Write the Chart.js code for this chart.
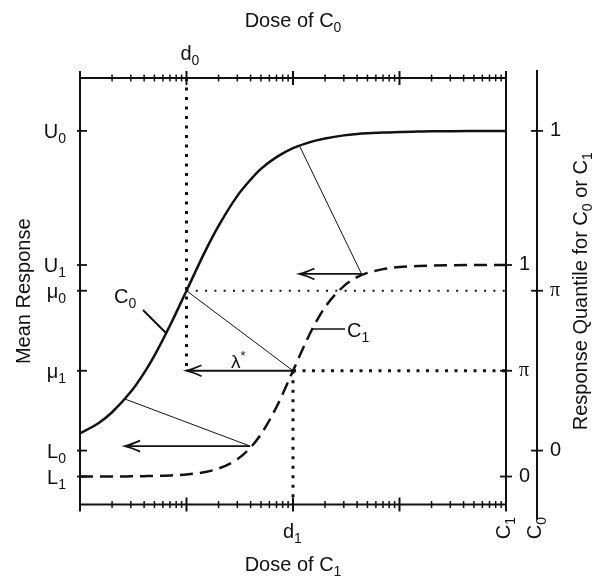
<!DOCTYPE html>
<html>
<head>
<meta charset="utf-8">
<script src="https://cdn.jsdelivr.net/npm/chart.js@4.4.0/dist/chart.umd.min.js"></script>
<style>
html, body { margin: 0; padding: 0; background: #fff; }
#wrap { width: 593px; height: 577px; }
</style>
</head>
<body>
<div id="wrap"><canvas id="doseChart"></canvas></div>
<script>
// dose axis (log), one major tick per decade
const doseDecades = [1, 10, 100, 1000, 10000];
const minorSteps = [2, 3, 4, 5, 6, 7, 8, 9];

const doses = [1, 1.5, 2, 3, 4, 5, 7, 10, 15, 20, 30, 40, 50, 70, 100, 150, 200, 300, 400, 500, 700, 1000, 1500, 2000, 3000, 5000, 10000];
const c0Response = [12.5, 15.5, 18.6, 24.5, 30.0, 35.0, 43.7, 53.75, 65.2, 72.5, 81.2, 85.9, 89.0, 92.4, 95.0, 96.9, 97.8, 98.7, 99.1, 99.3, 99.5, 99.7, 99.8, 99.87, 99.92, 99.96, 100];
const c1Response = [0.0, 0.0, 0.0, 0.05, 0.1, 0.15, 0.3, 0.6, 1.3, 2.3, 5.0, 8.4, 12.2, 20.1, 30.6, 42.4, 49.0, 55.1, 57.7, 58.9, 60.0, 60.6, 60.9, 61.05, 61.13, 61.18, 61.2];

// mean response levels (left axis)
const levelValues = [100, 61.2, 53.75, 30.6, 7.5, 0];
const levelNames = ['U', 'U', 'μ', 'μ', 'L', 'L'];
const levelSubs = ['0', '1', '0', '1', '0', '1'];

// quantile axes on the right: inner = C1, outer = C0
const c1QuantValues = [61.2, 30.6, 0];
const c0QuantValues = [100, 53.75, 7.5];
const quantLabels = ['1', 'π', '0'];

const d0 = 10, d1 = 100;
const mu0 = 53.75, mu1 = 30.6;
const yMin = -8.1, yMax = 115.3;

// thin lines joining equal quantiles, arrows run back to the C0 dose
const linkFromDose = [2.65, 10, 115];
const linkFromResp = [22.4, 53.75, 95.7];
const linkToDose = [39.5, 100, 440];
const linkToResp = [8.8, 30.6, 58.6];

const SANS = '"Liberation Sans", Arial, Helvetica, sans-serif';
const SERIF = '"Liberation Serif", "Times New Roman", serif';
const INK = '#111';
const FS = 20;

function seg(xs, ys) {
    return xs.map((v, i) => ({ x: v, y: ys[i] }));
}

function lineSet(data, width, dash) {
    return {
        data: data,
        borderColor: INK,
        borderWidth: width,
        borderDash: dash || [],
        borderCapStyle: 'butt',
        pointRadius: 0,
        fill: false,
        tension: 0
    };
}

const datasets = [];
datasets.push(Object.assign(lineSet(seg(doses, c0Response), 2.5), { cubicInterpolationMode: 'monotone' }));
datasets.push(Object.assign(lineSet(seg(doses, c1Response), 2.5, [13, 7]), { cubicInterpolationMode: 'monotone' }));

// dotted guides
datasets.push(lineSet([{ x: d0, y: yMax }, { x: d0, y: mu1 }], 3, [3, 6.5]));
datasets.push(lineSet([{ x: d1, y: mu1 }, { x: d1, y: yMin }], 3, [3, 6.5]));
datasets.push(lineSet([{ x: d1, y: mu1 }, { x: 10000, y: mu1 }], 3, [3, 6.5]));
datasets.push(lineSet([{ x: d0, y: mu0 }, { x: 10000, y: mu0 }], 2, [2, 7.3]));

linkFromDose.forEach((v, i) => {
    datasets.push(lineSet([{ x: v, y: linkFromResp[i] }, { x: linkToDose[i], y: linkToResp[i] }], 1));
    datasets.push(lineSet([{ x: linkToDose[i], y: linkToResp[i] }, { x: v + 0.0001, y: linkToResp[i] }], 1.8));
});

function fontFor(part, size) {
    const s = part[1] ? Math.round(size * 0.7) : size;
    const fam = part[2] === 'serif' ? SERIF : SANS;
    return s + 'px ' + fam;
}

// parts: [text, '' | 'sub' | 'sup', family]
function drawRich(ctx, parts, x, y, align, size) {
    const widths = parts.map(p => { ctx.font = fontFor(p, size); return ctx.measureText(p[0]).width; });
    const total = widths.reduce((a, b) => a + b, 0);
    let cx = align === 'right' ? x - total : align === 'center' ? x - total / 2 : x;
    ctx.textAlign = 'left';
    ctx.textBaseline = 'alphabetic';
    parts.forEach((p, i) => {
        ctx.font = fontFor(p, size);
        const dy = p[1] === 'sub' ? size * 0.26 : p[1] === 'sup' ? -size * 0.42 : 0;
        ctx.fillText(p[0], cx, y + dy);
        cx += widths[i];
    });
}

function line(ctx, x1, y1, x2, y2, w) {
    ctx.lineWidth = w;
    ctx.beginPath();
    ctx.moveTo(x1, y1);
    ctx.lineTo(x2, y2);
    ctx.stroke();
}

const axesPlugin = {
    id: 'axesPlugin',
    afterDatasetsDraw(chart) {
        const ctx = chart.ctx;
        const xs = chart.scales.x, ys = chart.scales.y, a = chart.chartArea;
        const outerX = a.right + 31;
        ctx.save();
        ctx.strokeStyle = INK;
        ctx.fillStyle = INK;
        ctx.lineCap = 'butt';

        // frame
        ctx.lineWidth = 2;
        ctx.strokeRect(a.left, a.top, a.right - a.left, a.bottom - a.top);

        // dose ticks, top and bottom
        doseDecades.forEach((d, i) => {
            const px = xs.getPixelForValue(d);
            line(ctx, px, a.top - 7, px, a.top + 7, 2);
            line(ctx, px, a.bottom - 7, px, a.bottom + 7, 2);
            if (i < doseDecades.length - 1) {
                minorSteps.forEach(m => {
                    const p = xs.getPixelForValue(d * m);
                    line(ctx, p, a.top - 3.5, p, a.top + 3.5, 1.5);
                    line(ctx, p, a.bottom - 3.5, p, a.bottom + 3.5, 1.5);
                });
            }
        });

        // left ticks and labels
        levelValues.forEach((v, i) => {
            const py = ys.getPixelForValue(v);
            line(ctx, a.left - 3, py, a.left + 7, py, 1.8);
            drawRich(ctx, [[levelNames[i], ''], [levelSubs[i], 'sub']], 66, py + 7, 'right', FS);
        });

        // inner right axis (C1)
        c1QuantValues.forEach((v, i) => {
            const py = ys.getPixelForValue(v);
            line(ctx, a.right - 6, py, a.right + 6, py, 1.8);
            const fam = quantLabels[i] === 'π' ? SERIF : SANS;
            ctx.font = FS + 'px ' + fam;
            ctx.textAlign = 'left';
            ctx.textBaseline = 'middle';
            ctx.fillText(quantLabels[i], a.right + 13, py);
        });

        // outer right axis (C0)
        line(ctx, outerX, a.top - 8, outerX, a.bottom + 15, 2);
        c0QuantValues.forEach((v, i) => {
            const py = ys.getPixelForValue(v);
            line(ctx, outerX - 6, py, outerX + 6, py, 1.8);
            const fam = quantLabels[i] === 'π' ? SERIF : SANS;
            ctx.font = FS + 'px ' + fam;
            ctx.textAlign = 'left';
            ctx.textBaseline = 'middle';
            ctx.fillText(quantLabels[i], outerX + 13, py);
        });

        // arrow heads
        linkFromDose.forEach((v, i) => {
            const tx = xs.getPixelForValue(v), ty = ys.getPixelForValue(linkToResp[i]);
            ctx.lineWidth = 1.8;
            ctx.beginPath();
            ctx.moveTo(tx + 15, ty - 5.5);
            ctx.quadraticCurveTo(tx + 6, ty - 1.5, tx, ty);
            ctx.quadraticCurveTo(tx + 6, ty + 1.5, tx + 15, ty + 5.5);
            ctx.stroke();
        });

        // dose labels
        drawRich(ctx, [['d', ''], ['0', 'sub']], xs.getPixelForValue(d0) - 6, 60, 'left', FS);
        drawRich(ctx, [['d', ''], ['1', 'sub']], xs.getPixelForValue(d1) - 10, 537.5, 'left', FS);
        drawRich(ctx, [['Dose of C', ''], ['0', 'sub']], 293, 27, 'center', FS);
        drawRich(ctx, [['Dose of C', ''], ['1', 'sub']], 293, 571, 'center', FS);

        // curve labels
        drawRich(ctx, [['C', ''], ['0', 'sub']], 114, 302.5, 'left', FS);
        line(ctx, 143, 310, 166, 333, 2);
        drawRich(ctx, [['C', ''], ['1', 'sub']], 347, 337, 'left', FS);
        line(ctx, 313, 329, 345, 329, 1.5);
        drawRich(ctx, [['λ', ''], ['*', 'sup']], 231, 368, 'left', 19);

        // rotated labels below the right axes
        [[a.right, '1'], [outerX, '0']].forEach(p => {
            ctx.save();
            ctx.translate(p[0] + 4, 517);
            ctx.rotate(-Math.PI / 2);
            drawRich(ctx, [['C', ''], [p[1], 'sub']], 0, 0, 'right', FS);
            ctx.restore();
        });

        // axis titles
        ctx.save();
        ctx.translate(30, (a.top + a.bottom) / 2);
        ctx.rotate(-Math.PI / 2);
        drawRich(ctx, [['Mean Response', '']], 0, 0, 'center', FS);
        ctx.restore();

        ctx.save();
        ctx.translate(587, (a.top + a.bottom) / 2);
        ctx.rotate(-Math.PI / 2);
        drawRich(ctx, [['Response Quantile for C', ''], ['0', 'sub'], [' or C', ''], ['1', 'sub']], 0, 0, 'center', FS);
        ctx.restore();

        ctx.restore();
    }
};

new Chart(document.getElementById('doseChart'), {
    type: 'line',
    data: { datasets: datasets },
    options: {
        responsive: true,
        maintainAspectRatio: false,
        animation: false,
        devicePixelRatio: 1,
        layout: { padding: { left: 80, right: 87, top: 78, bottom: 72.5 } },
        plugins: { legend: { display: false }, tooltip: { enabled: false } },
        scales: {
            x: { type: 'logarithmic', min: 1, max: 10000, display: false },
            y: { type: 'linear', min: yMin, max: yMax, display: false }
        }
    },
    plugins: [axesPlugin]
});
</script>
</body>
</html>
